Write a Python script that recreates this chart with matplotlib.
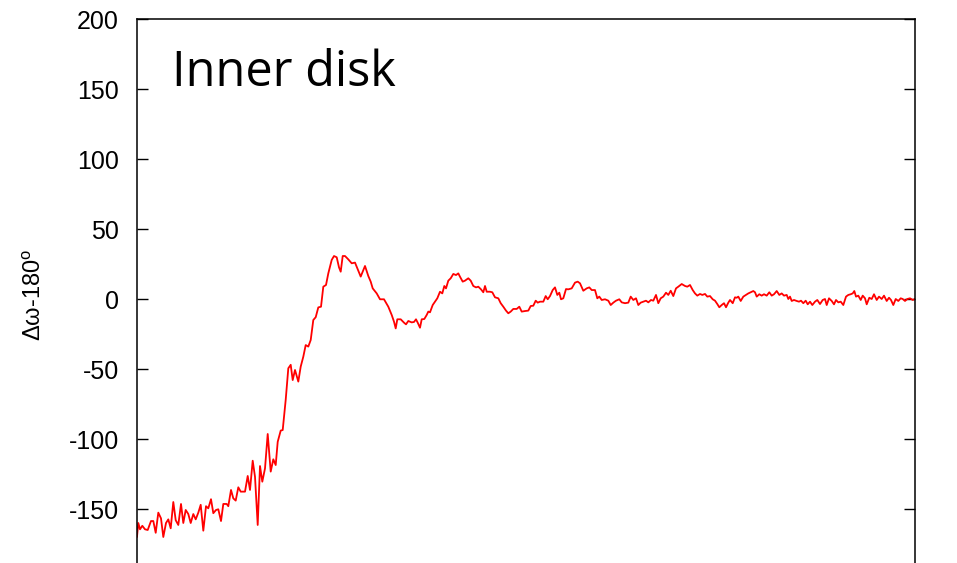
import numpy as np
import matplotlib.pyplot as plt
from matplotlib import rcParams

rcParams['font.family'] = 'Liberation Sans'
rcParams['mathtext.fontset'] = 'custom'
rcParams['mathtext.rm'] = 'Liberation Sans'
rcParams['axes.unicode_minus'] = False

#%% data: time and apsidal angle difference (deg)

t = [0, 1.3, 3, 5.3, 8, 10.7, 14, 16.3, 18.7, 21.3, 24, 26.3, 29, 31.3, 33.7,
     36.3, 38.7, 41.3, 44, 46.3, 48.7, 51.3, 53.7, 56.3, 58.7, 61.3, 63.7, 66.3,
     69, 71.3, 74, 76.3, 79, 81.3, 84, 86.3, 89.7, 91.3, 94, 96.3, 98.7, 101.3,
     103.7, 106.3, 108, 110.7, 113, 115.7, 118, 120.7, 123, 125.3, 128, 130.7,
     133.7, 136.3, 138.7, 140.7, 143.7, 145.7, 148.7, 151.3, 153.7, 155.7, 158,
     161.3, 163.7, 166.3, 168.7, 171.3, 173.7, 176.3, 178.7, 181.3, 184, 186.3,
     189, 191.3, 194.7, 197, 199.7, 202, 203.7, 205.7, 208, 211.3, 214.7, 218,
     220.3, 223.7, 228, 231.3, 233.7, 235.7, 239.7, 243, 247, 251.3, 254.7, 257,
     258.7, 260.3, 263.7, 267, 269, 271.3, 274.7, 277, 279, 280.7, 283, 284.7,
     287.3, 289.7, 291.3, 293, 295.7, 298, 300.3, 303, 305.3, 307.3, 309, 311.3,
     313.7, 316.3, 319, 321.3, 323, 325.7, 328, 331.3, 333.7, 336.3, 339, 341.3,
     344, 346.3, 348, 349.7, 353, 355.3, 358, 361.3, 363.7, 366.3, 369, 371.3,
     373.7, 376.3, 379.7, 382.3, 384.7, 388, 391.3, 393.7, 396.3, 398.7, 400.7,
     403, 406.3, 408.7, 410.7, 413, 415.7, 418, 420.3, 422.3, 424, 426.3, 429,
     431.3, 434.7, 438, 440.7, 443, 446.3, 449.7, 452.3, 454.7, 458, 460.3, 462.3,
     464.7, 468, 471.3, 473.7, 476.3, 479, 482.3, 484.7, 488, 491.3, 493.7, 496.3,
     499, 501.3, 503.7, 506.3, 509, 511.3, 514, 516.3, 519, 521.3, 523.7, 526.3,
     529, 531.3, 533.7, 536.3, 539, 541.3, 544.7, 548, 550.3, 553, 555.7, 558,
     560.3, 563, 565.3, 568, 570.3, 573, 575.7, 578, 580.3, 582.3, 584.7, 587,
     589, 591.3, 593, 595.7, 598, 599.7, 601.3, 603.7, 606.3, 609, 611.3, 613.7,
     616.3, 618, 619.7, 622.3, 624.7, 627, 629.7, 632.3, 634.7, 637, 639.7, 642.3,
     644.7, 647, 649.7, 651.3, 653, 654.7, 657, 659.7, 662, 664, 666.3, 668.7,
     670.7, 673, 675.3, 678, 680.3, 683, 685.7, 688, 689.7, 692, 694.7, 697, 699,
     701.3, 703.7, 706.3, 709, 711.3, 713.7, 715.7, 717.3, 719, 721.3, 723.7,
     725.7, 728, 729.7, 732.3, 734.7, 737, 739.7, 742, 744.7, 747, 749.7, 752,
     754, 756.3, 758.7, 761.3, 763.7, 765.7, 768, 770.3, 773, 775.7, 778]

dw = [-169.8, -160, -164.5, -162, -164.5, -165, -158.6, -158.6, -167, -152.6,
      -156.7, -170, -160, -157.4, -163.8, -145, -158, -161.4, -146.4, -160,
      -150.7, -153.6, -160, -153.6, -157.4, -152.6, -147, -165.5, -148, -149.5,
      -143, -153, -150.7, -150.2, -158.6, -146.4, -146.4, -148, -136.4, -142.4,
      -144, -134.5, -137.6, -137.6, -137.6, -126.4, -136.4, -115.5, -127, -161.4,
      -119.3, -130.5, -121, -96.4, -123.3, -114.5, -118.6, -102, -94, -93.6, -72,
      -49.5, -47, -57.9, -50.7, -59, -48.3, -41.2, -32.9, -34, -29.3, -15, -13,
      -6, -5.5, 8.8, 10, 18.3, 27.9, 30.7, 29.8, 22.6, 19.5, 30.7, 30.7, 28.3,
      25.5, 26, 21.9, 16, 23.6, 16.4, 12.4, 7.6, 4, -0.2, -0.2, -5.5, -11.4,
      -16.2, -21, -14.5, -14.5, -16.9, -18.1, -15.7, -16.7, -16.4, -14.5, -16.9,
      -20.5, -14.5, -14.3, -11.4, -9, -9.5, -4.3, -1.9, 0.5, 5.2, 4, 9.3, 7.6,
      13.1, 14.8, 17.9, 17.1, 18.3, 15.9, 12.4, 13.1, 14.8, 13.1, 9.3, 8.3, 8.8,
      6.9, 4.8, 9.3, 5.2, 5.2, 4.8, 1.2, 0.5, -3, -5.5, -8.3, -10.2, -9, -7.1,
      -7.1, -5.5, -9, -8.6, -8.3, -5, -4.8, -1.2, -2.6, -1.9, -1.9, 2.1, -0.2,
      2.1, 6.4, 8.3, 2.9, 4.5, -0.2, 0.5, 7.1, 6.9, 7.6, 11.7, 12.4, 11.2, 5.9,
      7.6, 8.3, 6.4, 6.4, 0.5, 1.7, -0.7, -0.2, -1.2, -4.3, -2.6, -1.2, -0.2,
      -2.4, -3, -2.6, 1.7, -0.7, 0.5, -4.3, -2.6, -1.9, -1.2, -2.4, -0.7, -1.2,
      2.9, -3, 0.5, 1.7, 4.5, 2.9, 5.9, 2.1, 7.6, 8.8, 10.7, 9.3, 8.8, 10, 6.4,
      4, 2.4, 3.6, 2.9, 3.6, 1.7, 2.1, -0.2, -1.2, -3.6, -5.9, -4.3, -3, -5.9,
      -2.6, -0.7, -3, 1.2, 0.9, 1.7, -1.4, 1.7, 2.9, 4, 4.8, 5.7, 4.8, 1.7, 3.4,
      2.4, 3.4, 2.4, 4.8, 2.4, 3.4, 5.7, 2.9, 4, 2.4, 2.9, 0, 1.7, -1.4, -0.7,
      -1.4, -1.9, -1.2, -3, -1.2, -3.8, -1.9, -4.3, -1.9, -0.7, -3.6, -0.7, 0,
      -4.3, 0.5, -1.4, -3.8, -0.7, -2.4, -1.9, -4.3, 1.7, 2.9, 3.4, 4, 5.7, 1.7,
      2.4, -0.7, 2.4, 0.5, -3.8, 0.9, 0, 3.4, -0.7, 1.7, 0, 2.4, -1.4, 0.9, -0.7,
      -4.3, 0, -1.4, 0.5, 0, -1.4, 0, 0.5, -0.7, 0]

yticks = [-150, -100, -50, 0, 50, 100, 150, 200]

#%% plot
fig = plt.figure(figsize=(9.57, 5.63), dpi=100)
# bottom of the frame runs off the canvas
ax = fig.add_axes([0.14316, -0.02842, 0.81296, 0.99467])

ax.plot(t, dw, color='red', lw=1.3)

ax.set_xlim(0, 778)
ax.set_ylim(-200, 200)
ax.set_yticks(yticks)
ax.set_xticks([])
ax.tick_params(axis='y', direction='in', length=8, width=1.0, labelsize=18,
               pad=13, right=True)
for s in ax.spines.values():
    s.set_linewidth(1.1)

ax.set_ylabel('Δω-180$^{\\mathrm{o}}$', fontsize=17)
ax.yaxis.set_label_coords(-0.117, 0.507)

ax.text(0.045, 0.8804, 'Inner disk', transform=ax.transAxes, fontsize=35,
        family='Open Sans', ha='left', va='baseline')

fig.savefig('out.png', dpi=100)
